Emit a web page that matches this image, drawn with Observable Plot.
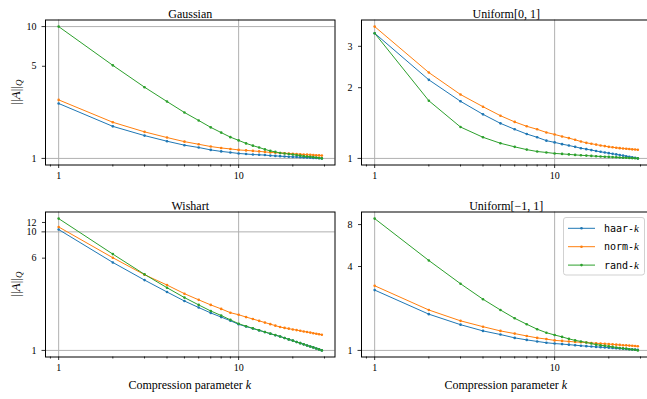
<!DOCTYPE html>
<html><head><meta charset="utf-8">
<script src="https://cdn.jsdelivr.net/npm/d3@7"></script>
<script src="https://cdn.jsdelivr.net/npm/@observablehq/plot@0.6"></script>
<style>
html,body{margin:0;padding:0;background:#fff;}
#chart{position:relative;width:647px;height:399px;overflow:hidden;background:#fff;}
#chart svg{position:absolute;max-width:none;background:transparent;overflow:visible;}
</style></head><body><div id="chart"></div>
<script>
// ---- data ----
const k = [1,2,3,4,5,6,7,8,9,10,11,12,13,14,15,16,17,18,19,20,21,22,23,24,25,26,27,28,29];
const seriesNames = ["haar", "norm", "rand"];
const seriesColors = ["#1f77b4", "#ff7f0e", "#2ca02c"];

const gaussHaar = [2.61,1.75,1.49,1.35,1.26,1.21,1.16,1.13,1.11,1.09,1.08,1.07,1.065,1.06,1.05,1.045,1.04,1.035,1.03,1.027,1.024,1.02,1.017,1.014,1.011,1.008,1.006,1.003,1.0];
const gaussNorm = [2.78,1.88,1.59,1.44,1.34,1.28,1.23,1.20,1.18,1.16,1.15,1.14,1.13,1.12,1.11,1.105,1.10,1.095,1.09,1.085,1.08,1.075,1.07,1.068,1.065,1.06,1.057,1.054,1.05];
const gaussRand = [10.0,5.08,3.47,2.70,2.23,1.94,1.72,1.57,1.45,1.37,1.30,1.25,1.21,1.17,1.14,1.12,1.10,1.09,1.08,1.07,1.06,1.05,1.04,1.035,1.03,1.022,1.015,1.008,1.0];

const unif01Haar = [3.41,2.16,1.75,1.54,1.41,1.33,1.27,1.23,1.19,1.17,1.15,1.135,1.12,1.105,1.095,1.085,1.075,1.067,1.06,1.053,1.046,1.04,1.034,1.028,1.022,1.016,1.011,1.006,1.0];
const unif01Norm = [3.64,2.32,1.87,1.66,1.52,1.43,1.37,1.33,1.29,1.265,1.24,1.22,1.20,1.18,1.165,1.155,1.145,1.135,1.128,1.12,1.115,1.11,1.106,1.102,1.099,1.096,1.093,1.091,1.089];
const unif01Rand = [3.41,1.76,1.36,1.23,1.16,1.12,1.09,1.07,1.06,1.05,1.045,1.04,1.035,1.031,1.028,1.025,1.022,1.019,1.017,1.015,1.013,1.011,1.009,1.007,1.006,1.004,1.003,1.001,1.0];

const wishartHaar = [10.46,5.52,3.92,3.11,2.61,2.30,2.07,1.91,1.78,1.66,1.59,1.53,1.475,1.427,1.383,1.344,1.31,1.272,1.238,1.21,1.178,1.151,1.125,1.101,1.079,1.06,1.039,1.02,1.0];
const wishartNorm = [11.0,6.05,4.35,3.56,3.01,2.67,2.42,2.24,2.08,2.00,1.91,1.84,1.775,1.717,1.665,1.618,1.574,1.549,1.526,1.503,1.483,1.464,1.445,1.429,1.413,1.396,1.384,1.369,1.355];
const wishartRand = [12.94,6.49,4.38,3.38,2.79,2.42,2.15,1.97,1.81,1.68,1.60,1.535,1.48,1.43,1.386,1.346,1.312,1.273,1.239,1.21,1.178,1.151,1.125,1.101,1.079,1.06,1.039,1.02,1.0];

const unifPMHaar = [2.71,1.82,1.53,1.38,1.30,1.23,1.19,1.16,1.135,1.12,1.11,1.10,1.09,1.08,1.073,1.066,1.06,1.055,1.05,1.045,1.04,1.036,1.032,1.028,1.024,1.02,1.017,1.013,1.01];
const unifPMNorm = [2.91,1.95,1.63,1.48,1.38,1.32,1.27,1.23,1.205,1.18,1.17,1.16,1.15,1.145,1.14,1.13,1.125,1.12,1.115,1.11,1.105,1.10,1.095,1.09,1.087,1.083,1.079,1.075,1.07];
const unifPMRand = [8.83,4.42,3.01,2.33,1.95,1.70,1.54,1.42,1.34,1.29,1.25,1.21,1.18,1.16,1.14,1.12,1.10,1.09,1.08,1.07,1.06,1.05,1.04,1.035,1.03,1.02,1.015,1.01,1.0];

const titles = ["Gaussian", "Uniform[0, 1]", "Wishart", "Uniform[\u22121, 1]"];
const xMajorTicks = [1, 10];
const xMinorTicks = [0.9, 2, 3, 4, 5, 6, 7, 8, 9, 20, 30];
const yMajorTicks = [1, 10];
const gaussYTicks = [1, 5, 10];
const unif01YTicks = [1, 2, 3];
const wishartYTicks = [1, 6, 10, 12];
const unifPMYTicks = [1, 4, 8];
const xLabel = "Compression parameter ";

// ---- layout ----
const SERIF = "'Liberation Serif','Times New Roman',Times,serif";
const panels = [
  {title: titles[0], series: [gaussHaar, gaussNorm, gaussRand], yTicks: gaussYTicks, col: 0, row: 0},
  {title: titles[1], series: [unif01Haar, unif01Norm, unif01Rand], yTicks: unif01YTicks, col: 1, row: 0},
  {title: titles[2], series: [wishartHaar, wishartNorm, wishartRand], yTicks: wishartYTicks, col: 0, row: 1},
  {title: titles[3], series: [unifPMHaar, unifPMNorm, unifPMRand], yTicks: unifPMYTicks, col: 1, row: 1}
];
const chart = document.getElementById("chart");
const fmt = d => String(d);

panels.forEach(p => {
  const rows = [];
  p.series.forEach((vals, si) => vals.forEach((v, i) => rows.push({k: k[i], v, s: seriesNames[si]})));
  const ly0 = Math.log10(d3.min(rows, d => d.v)), ly1 = Math.log10(d3.max(rows, d => d.v));
  const py = 0.05 * (ly1 - ly0);
  const lx0 = Math.log10(d3.min(k)), lx1 = Math.log10(d3.max(k));
  const px = 0.05 * (lx1 - lx0);
  const yDom = [10 ** (ly0 - py), 10 ** (ly1 + py)];
  const W = 340, H = p.row === 0 ? 195 : 207;
  const mB = p.row === 0 ? 30.5 : 42.5;
  const yMinor = p.yTicks.filter(t => !yMajorTicks.includes(t));
  const yMajor = p.yTicks.filter(t => yMajorTicks.includes(t));
  const yGrid = yMajorTicks.filter(t => t >= yDom[0] && t <= yDom[1]);
  const svg = Plot.plot({
    width: W, height: H,
    marginLeft: 45, marginRight: 5.5, marginTop: 19.5, marginBottom: mB,
    x: {type: "log", domain: [10 ** (lx0 - px), 10 ** (lx1 + px)], label: null},
    y: {type: "log", domain: yDom, label: null},
    color: {domain: seriesNames, range: seriesColors},
    style: {background: "transparent", fontFamily: SERIF, fontSize: "10px", color: "black", overflow: "visible"},
    marks: [
      Plot.gridX(xMajorTicks, {stroke: "#b0b0b0", strokeOpacity: 1, strokeWidth: 1}),
      Plot.gridY(yGrid, {stroke: "#b0b0b0", strokeOpacity: 1, strokeWidth: 1}),
      Plot.line(rows, {x: "k", y: "v", stroke: "s", z: "s", strokeWidth: 1}),
      Plot.dot(rows, {x: "k", y: "v", fill: "s", r: 1.3}),
      Plot.frame({stroke: "black", strokeWidth: 1}),
      Plot.axisX(xMinorTicks, {tickSize: 2, text: () => "", label: null, strokeWidth: 0.8}),
      Plot.axisX(xMajorTicks, {tickSize: 3.5, tickPadding: 3, ticks: 1000, text: fmt, tickFormat: fmt, label: null, strokeWidth: 0.8, fontSize: 10}),
      Plot.axisY(yMajor, {tickSize: 3.5, tickPadding: 5.5, ticks: 1000, text: fmt, tickFormat: fmt, label: null, strokeWidth: 0.8, fontSize: 10}),
      Plot.axisY(yMinor, {tickSize: 3, tickPadding: 6, ticks: 1000, text: fmt, tickFormat: fmt, label: null, strokeWidth: 0.8, fontSize: 10}),
      Plot.text([p.title], {frameAnchor: "top", dy: -10.5, fontSize: 12, fontFamily: SERIF})
    ]
  });
  svg.style.left = (p.col === 0 ? 0 : 316) + "px";
  svg.style.top = (p.row === 0 ? 0 : 192) + "px";
  chart.appendChild(svg);
  const s = d3.select(svg);
  const frameMidY = 19.5 + (H - mB - 19.5) / 2;
  if (p.col === 0) {
    const t = s.append("text")
      .attr("transform", `translate(15,${frameMidY}) rotate(-90)`)
      .attr("text-anchor", "middle").attr("dy", "0.35em")
      .attr("font-family", SERIF).attr("font-size", 13).attr("fill", "black");
    t.append("tspan").text("||");
    t.append("tspan").attr("font-style", "italic").text("A");
    t.append("tspan").text("||");
    t.append("tspan").attr("font-style", "italic").attr("font-size", 9).attr("dy", "0.3em").text("Q");
  }
  if (p.row === 1) {
    const cx = 45 + (W - 45 - 5.5) / 2;
    const t = s.append("text")
      .attr("x", cx).attr("y", H - mB + 28.5)
      .attr("text-anchor", "middle").attr("dy", "0.35em")
      .attr("font-family", SERIF).attr("font-size", 12).attr("fill", "black");
    t.append("tspan").text(xLabel);
    t.append("tspan").attr("font-style", "italic").text("k");
  }
});

// ---- legend (in the lower-right panel) ----
const leg = d3.select(chart).append("svg")
  .attr("width", 647).attr("height", 399)
  .style("left", "0px").style("top", "0px");
leg.append("rect").attr("x", 563.5).attr("y", 217.5).attr("width", 81).attr("height", 57.5)
  .attr("rx", 2.5).attr("fill", "white").attr("fill-opacity", 0.8).attr("stroke", "#cccccc").attr("stroke-width", 0.9);
seriesNames.forEach((name, i) => {
  const y = 228.3 + i * 18.4;
  leg.append("line").attr("x1", 568).attr("x2", 595).attr("y1", y).attr("y2", y)
    .attr("stroke", seriesColors[i]).attr("stroke-width", 1);
  leg.append("circle").attr("cx", 581.5).attr("cy", y).attr("r", 1.3).attr("fill", seriesColors[i]);
  const t = leg.append("text").attr("x", 604).attr("y", y).attr("dy", "0.35em")
    .attr("font-size", 10).attr("fill", "black");
  t.append("tspan").attr("font-family", "'DejaVu Sans Mono',monospace").text(name + "-");
  t.append("tspan").attr("font-family", SERIF).attr("font-style", "italic").attr("font-size", 11).text("k");
});
</script></body></html>
